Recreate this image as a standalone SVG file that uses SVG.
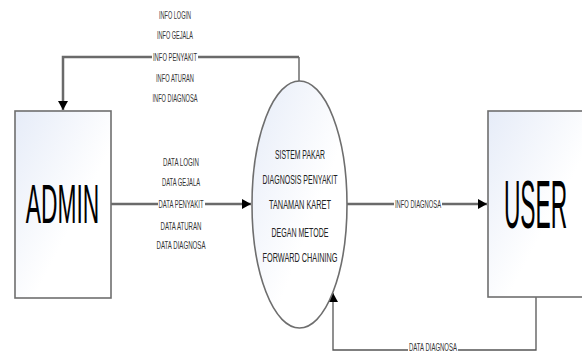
<svg xmlns="http://www.w3.org/2000/svg" width="582" height="353" viewBox="0 0 582 353">
<style>
.box{stroke:#6e6e6e;stroke-width:1.6;fill:url(#g)}
.ent{font-family:"Liberation Sans",Arial,sans-serif;fill:#000;text-anchor:middle}
.proc{font-family:"Liberation Sans",Arial,sans-serif;font-size:12.5px;fill:#222;text-anchor:middle}
.lbl{font-family:"Liberation Sans",Arial,sans-serif;font-size:10px;fill:#333;text-anchor:middle}
.flow{fill:none;stroke:#6a6a6a;stroke-width:2.5}
.thin{fill:none;stroke:#555;stroke-width:1.3}
.bg{fill:#fff}
</style>
<defs>
<linearGradient id="g" x1="0" y1="0" x2="1" y2="1">
<stop offset="0" stop-color="#e6ecf8"/>
<stop offset="0.6" stop-color="#ffffff"/>
<stop offset="1" stop-color="#ffffff"/>
</linearGradient>
<marker id="ah" markerWidth="10" markerHeight="10" refX="9" refY="5" orient="auto" markerUnits="userSpaceOnUse">
<path d="M0,0 L9,5 L0,10 z" fill="#000"/>
</marker>
</defs>
<rect width="582" height="353" fill="#fff"/>
<g id="connectors">
<path class="thin" d="M299,81 V57"/>
<path class="flow" d="M299,57 H63 V110" marker-end="url(#ah)"/>
<path class="flow" d="M111,204 H251" marker-end="url(#ah)"/>
<path class="flow" d="M347,204 H487" marker-end="url(#ah)"/>
<path class="thin" d="M536,297 V350 H333 V293" marker-end="url(#ah)"/>
<rect class="bg" x="152" y="52" width="46" height="10"/>
<text class="lbl" x="175" y="19" textLength="32" lengthAdjust="spacingAndGlyphs">INFO LOGIN</text>
<text class="lbl" x="175" y="39" textLength="36" lengthAdjust="spacingAndGlyphs">INFO GEJALA</text>
<text class="lbl" x="175" y="60.5" textLength="44" lengthAdjust="spacingAndGlyphs">INFO PENYAKIT</text>
<text class="lbl" x="175" y="82" textLength="38" lengthAdjust="spacingAndGlyphs">INFO ATURAN</text>
<text class="lbl" x="175" y="102" textLength="45" lengthAdjust="spacingAndGlyphs">INFO DIAGNOSA</text>
<rect class="bg" x="158" y="199" width="47" height="10"/>
<text class="lbl" x="181" y="166" textLength="36" lengthAdjust="spacingAndGlyphs">DATA LOGIN</text>
<text class="lbl" x="181" y="186" textLength="38" lengthAdjust="spacingAndGlyphs">DATA GEJALA</text>
<text class="lbl" x="181" y="207.5" textLength="45" lengthAdjust="spacingAndGlyphs">DATA PENYAKIT</text>
<text class="lbl" x="181" y="230" textLength="41" lengthAdjust="spacingAndGlyphs">DATA ATURAN</text>
<text class="lbl" x="181" y="249" textLength="49" lengthAdjust="spacingAndGlyphs">DATA DIAGNOSA</text>
<rect class="bg" x="394" y="199" width="48" height="10"/>
<text class="lbl" x="418" y="207.5" textLength="46" lengthAdjust="spacingAndGlyphs">INFO DIAGNOSA</text>
<rect class="bg" x="408" y="345" width="50" height="8"/>
<text class="lbl" x="433" y="350.5" font-size="8" textLength="48" lengthAdjust="spacingAndGlyphs">DATA DIAGNOSA</text>
</g>
<g id="admin">
<rect class="box" x="15" y="111" width="96" height="187"/>
<text class="ent" transform="translate(62.5,223) scale(0.415,1)" x="0" y="0" font-size="55">ADMIN</text>
</g>
<g id="process">
<ellipse class="box" cx="299.5" cy="204.5" rx="47.5" ry="123.5"/>
<text class="proc" x="300" y="158.5" textLength="50" lengthAdjust="spacingAndGlyphs">SISTEM PAKAR</text>
<text class="proc" x="300" y="183.5" textLength="75" lengthAdjust="spacingAndGlyphs">DIAGNOSIS PENYAKIT</text>
<text class="proc" x="300" y="208.5" textLength="62" lengthAdjust="spacingAndGlyphs">TANAMAN KARET</text>
<text class="proc" x="300" y="236.5" textLength="57" lengthAdjust="spacingAndGlyphs">DEGAN METODE</text>
<text class="proc" x="300" y="261.5" textLength="75" lengthAdjust="spacingAndGlyphs">FORWARD CHAINING</text>
</g>
<g id="user">
<rect class="box" x="488" y="111" width="100" height="186"/>
<text class="ent" transform="translate(535.5,228) scale(0.33,1)" x="0" y="0" font-size="69">USER</text>
</g>
</svg>
